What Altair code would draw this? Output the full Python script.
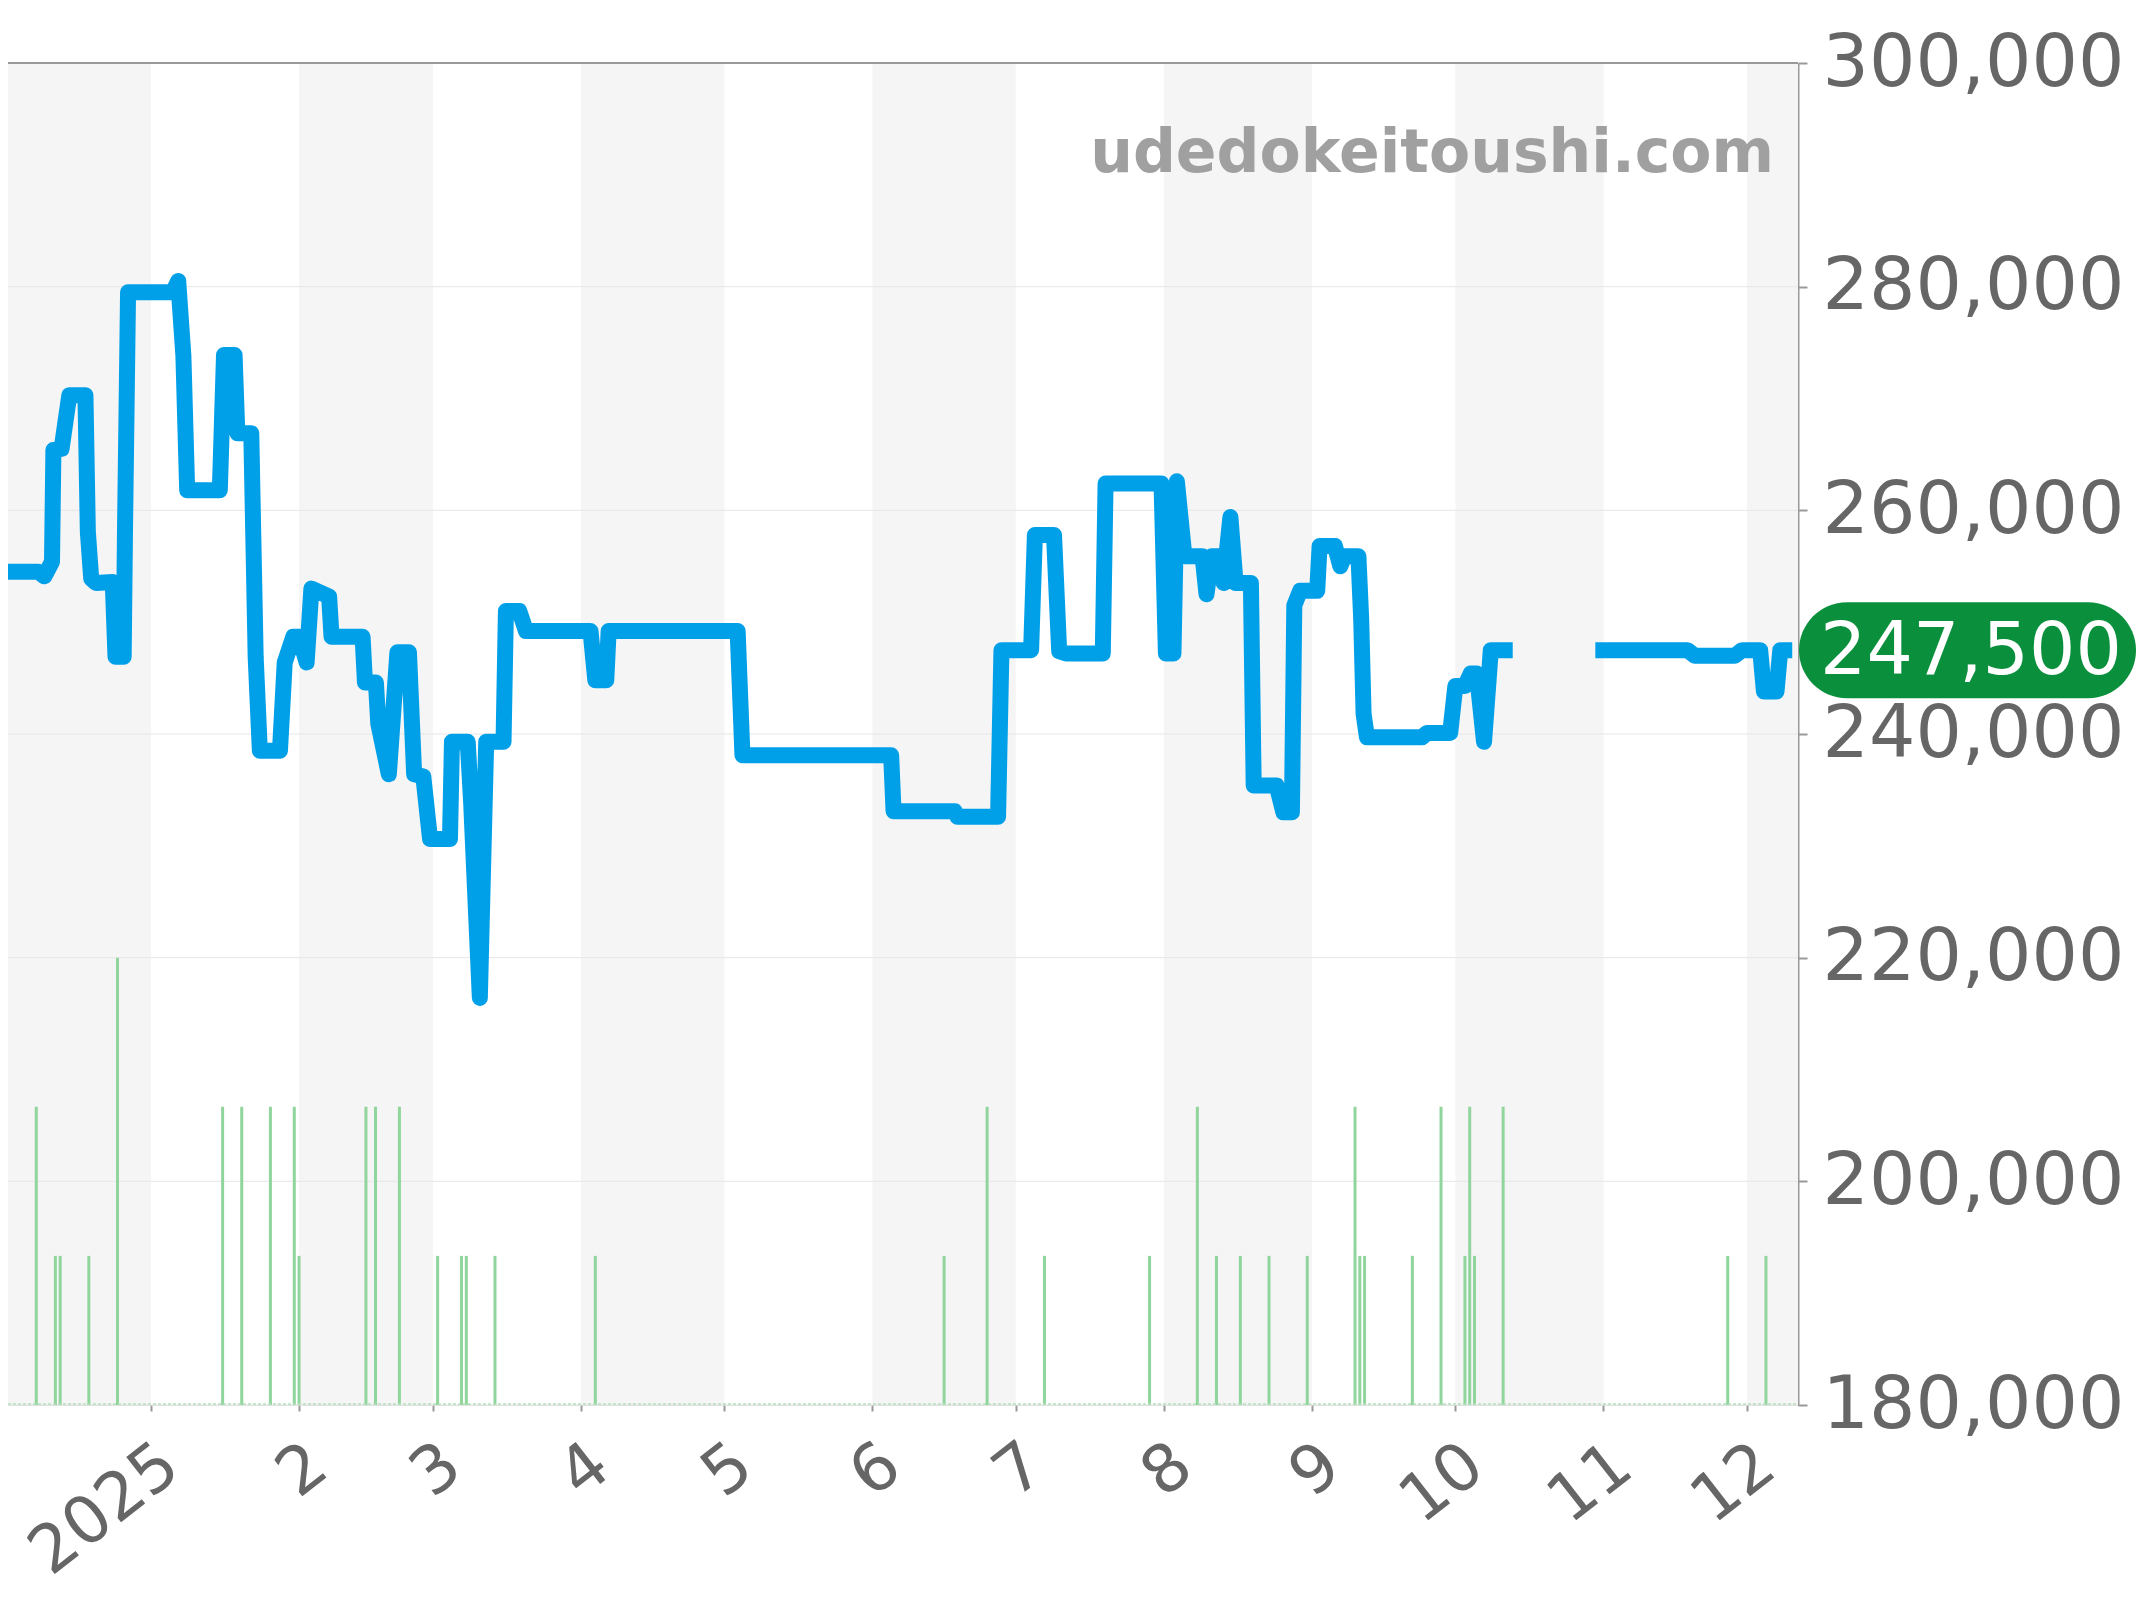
import altair as alt
import pandas as pd

W, H = 1790, 1342

# ---- price line (two segments, gap in late Oct 2025) ----
seg_a_dates = [
    "2024-12-01T00:00", "2024-12-08T12:00", "2024-12-09T17:00", "2024-12-11T07:00",
    "2024-12-11T14:00", "2024-12-13T07:00", "2024-12-14T22:00", "2024-12-18T07:00",
    "2024-12-18T19:00", "2024-12-19T12:00", "2024-12-20T12:00", "2024-12-24T00:00",
    "2024-12-24T14:00", "2024-12-26T07:00", "2024-12-26T14:00", "2024-12-27T05:00",
    "2025-01-05T14:00", "2025-01-06T17:00", "2025-01-07T19:00", "2025-01-08T14:00",
    "2025-01-15T10:00", "2025-01-16T07:00", "2025-01-18T12:00", "2025-01-19T02:00",
    "2025-01-22T00:00", "2025-01-22T22:00", "2025-01-23T19:00", "2025-01-28T00:00",
    "2025-01-29T00:00", "2025-01-30T19:00", "2025-02-01T00:00", "2025-02-02T14:00",
    "2025-02-03T14:00", "2025-02-07T07:00", "2025-02-07T19:00", "2025-02-14T07:00",
    "2025-02-14T19:00", "2025-02-17T02:00", "2025-02-17T14:00", "2025-02-19T19:00",
    "2025-02-21T14:00", "2025-02-24T00:00", "2025-02-25T02:00", "2025-02-27T00:00",
    "2025-02-28T10:00", "2025-03-04T14:00", "2025-03-05T00:00", "2025-03-08T07:00",
    "2025-03-09T00:00", "2025-03-10T20:00", "2025-03-12T04:00", "2025-03-15T19:00",
    "2025-03-16T07:00", "2025-03-19T02:00", "2025-03-20T12:00", "2025-04-03T00:00",
    "2025-04-04T00:00", "2025-04-06T07:00", "2025-04-06T19:00", "2025-05-03T19:00",
    "2025-05-04T19:00", "2025-06-04T22:00", "2025-06-05T10:00", "2025-06-18T05:00",
    "2025-06-18T19:00", "2025-06-27T07:00", "2025-06-28T00:00", "2025-07-04T05:00",
    "2025-07-05T00:00", "2025-07-09T00:00", "2025-07-10T02:00", "2025-07-11T12:00",
    "2025-07-19T05:00", "2025-07-19T19:00", "2025-07-31T12:00", "2025-08-01T10:00",
    "2025-08-03T00:00", "2025-08-03T17:00", "2025-08-05T07:00", "2025-08-09T02:00",
    "2025-08-09T22:00", "2025-08-11T00:00", "2025-08-12T12:00", "2025-08-13T12:00",
    "2025-08-14T22:00", "2025-08-16T00:00", "2025-08-19T05:00", "2025-08-19T19:00",
    "2025-08-24T14:00", "2025-08-26T00:00", "2025-08-27T19:00", "2025-08-28T07:00",
    "2025-08-29T12:00", "2025-09-02T02:00", "2025-09-02T14:00", "2025-09-05T19:00",
    "2025-09-06T22:00", "2025-09-07T19:00", "2025-09-10T17:00", "2025-09-11T07:00",
    "2025-09-11T19:00", "2025-09-12T12:00", "2025-09-24T00:00", "2025-09-25T02:00",
    "2025-09-29T22:00", "2025-10-01T00:00", "2025-10-03T00:00", "2025-10-04T05:00",
    "2025-10-05T12:00", "2025-10-07T00:00", "2025-10-08T10:00", "2025-10-13T00:00",
]
seg_a_prices = [
    254500, 254500, 254100, 255400,
    265400, 265500, 270300, 270300,
    258100, 253900, 253500, 253600,
    246900, 246900, 258700, 279500,
    279500, 280500, 273800, 261800,
    261800, 273900, 273900, 266900,
    266900, 246900, 238500, 238500,
    246400, 248700, 248700, 246400,
    253000, 252300, 248700, 248700,
    244600, 244600, 240900, 236400,
    247300, 247300, 236400, 236200,
    230600, 230600, 239300, 239300,
    234000, 216400, 239300, 239300,
    251000, 251000, 249200, 249200,
    244800, 244800, 249200, 249200,
    238100, 238100, 233100, 233100,
    232600, 232600, 247500, 247500,
    257800, 257800, 247400, 247200,
    247200, 262400, 262400, 247200,
    247200, 262600, 255900, 255900,
    252500, 255900, 255900, 253500,
    259400, 253500, 253500, 235400,
    235400, 233000, 233000, 251500,
    252800, 252800, 256800, 256800,
    255000, 255900, 255900, 250300,
    241800, 239700, 239700, 240100,
    240100, 244300, 244300, 245400,
    245400, 239300, 247500, 247500,
]
seg_b_dates = [
    "2025-10-30T07:00", "2025-11-18T14:00", "2025-11-20T02:00", "2025-11-28T12:00",
    "2025-11-30T00:00", "2025-12-03T19:00", "2025-12-04T14:00", "2025-12-07T05:00",
    "2025-12-08T00:00", "2025-12-10T12:00",
]
seg_b_prices = [
    247500, 247500, 247000, 247000,
    247500, 247500, 243800, 243800,
    247500, 247500,
]

# ---- volume (number of trades) ----
vol_dates = [
    "2024-12-08T00:00", "2024-12-12T00:00", "2024-12-13T00:00", "2024-12-19T00:00",
    "2024-12-25T00:00", "2025-01-16T00:00", "2025-01-20T00:00", "2025-01-26T00:00",
    "2025-01-31T00:00", "2025-02-01T00:00", "2025-02-15T00:00", "2025-02-17T00:00",
    "2025-02-22T00:00", "2025-03-02T00:00", "2025-03-07T00:00", "2025-03-08T00:00",
    "2025-03-14T00:00", "2025-04-04T00:00", "2025-06-16T00:00", "2025-06-25T00:00",
    "2025-07-07T00:00", "2025-07-29T00:00", "2025-08-08T00:00", "2025-08-12T00:00",
    "2025-08-17T00:00", "2025-08-23T00:00", "2025-08-31T00:00", "2025-09-10T00:00",
    "2025-09-11T00:00", "2025-09-12T00:00", "2025-09-22T00:00", "2025-09-28T00:00",
    "2025-10-03T00:00", "2025-10-04T00:00", "2025-10-05T00:00", "2025-10-11T00:00",
    "2025-11-27T00:00", "2025-12-05T00:00",
]
vol_counts = [2, 1, 1, 1, 3, 2, 2, 2, 2, 1, 2, 2, 2, 1, 1, 1, 1, 1, 1, 2,
              1, 1, 2, 1, 1, 1, 1, 2, 1, 1, 1, 2, 1, 2, 1, 2, 1, 1]

# ---- shaded months ----
band_starts = ["2024-12-01T00:00", "2025-02-01T00:00", "2025-04-01T00:00", "2025-06-01T00:00",
               "2025-08-01T00:00", "2025-10-01T00:00", "2025-12-01T00:00"]
band_ends = ["2025-01-01T00:00", "2025-03-01T00:00", "2025-05-01T00:00", "2025-07-01T00:00",
             "2025-09-01T00:00", "2025-11-01T00:00", "2026-01-01T00:00"]

y_ticks = [180000, 200000, 220000, 240000, 260000, 280000, 300000]
tick_months = list(range(1, 13))
latest_price = 247500
watermark = "udedokeitoushi.com"

FONT = "DejaVu Sans"

line_df = pd.DataFrame({
    "date": seg_a_dates + seg_b_dates,
    "price": seg_a_prices + seg_b_prices,
    "segment": ["a"] * len(seg_a_dates) + ["b"] * len(seg_b_dates),
})
vol_df = pd.DataFrame({"date": vol_dates, "count": vol_counts})
band_df = pd.DataFrame({"start": band_starts, "end": band_ends})
grid_df = pd.DataFrame({"tick": y_ticks})
latest_df = pd.DataFrame({"price": [latest_price]})
one = pd.DataFrame({"k": [0]})

price_scale = alt.Scale(domain=[180000, 300000], nice=False, zero=False)
x_scale = alt.Scale(domain=[alt.DateTime(year=2024, month=12, date=2, hours=2),
                            alt.DateTime(year=2025, month=12, date=11, hours=17)])

x_axis = alt.Axis(
    values=[alt.DateTime(year=2025, month=m, date=1) for m in tick_months],
    labelExpr="month(datum.value) == 0 ? timeFormat(datum.value, '%Y') : '' + (month(datum.value) + 1)",
    title=None, domain=False, grid=False, ticks=True, tickColor="#999999", tickWidth=2,
    tickSize=6, labelFontSize=66, labelColor="#666666", labelAngle=322, labelAlign="right",
    labelBaseline="top", labelPadding=21, labelOverlap=False, labelFlush=False, labelFont=FONT,
    labelLimit=400,
)
y_axis = alt.Axis(
    orient="right", values=y_ticks, format=",.0f", title=None, grid=False,
    domainColor="#999999", domainWidth=2, tickColor="#999999", tickWidth=2, tickSize=9,
    labelFontSize=73, labelColor="#666666", labelPadding=15, labelFont=FONT,
    labelFlush=False, labelOverlap=False, labelLimit=400,
)

bands = alt.Chart(band_df).mark_rect(color="#f5f5f5", clip=True).encode(
    x=alt.X("start:T", scale=x_scale, axis=x_axis, title=None),
    x2="end:T",
    y=alt.value(0), y2=alt.value(H),
)
grid = alt.Chart(grid_df).mark_rule(color="#e6e6e6", strokeWidth=1).encode(
    y=alt.Y("tick:Q", scale=price_scale, axis=None),
)
back = alt.layer(bands, grid)

vol = alt.Chart(vol_df).mark_rule(color="#8fd59c", strokeWidth=3).encode(
    x=alt.X("date:T", scale=x_scale, axis=x_axis, title=None),
    y=alt.Y("count:Q", scale=alt.Scale(domain=[0, 9], nice=False), axis=None),
    y2=alt.datum(0),
)
baseline = alt.Chart(one).mark_rule(color="#b3e0ba", strokeWidth=1.5, strokeDash=[3, 2]).encode(
    x=alt.value(0), x2=alt.value(W), y=alt.value(H - 1),
)
lower = alt.layer(vol, baseline)

line = alt.Chart(line_df).mark_line(
    color="#00a0e9", strokeWidth=16, strokeJoin="round", strokeCap="butt", clip=True
).encode(
    x=alt.X("date:T", scale=x_scale, axis=x_axis, title=None),
    y=alt.Y("price:Q", scale=price_scale, axis=y_axis, title=None),
    detail="segment:N",
)
top = alt.Chart(one).mark_rule(color="#999999", strokeWidth=2).encode(
    x=alt.value(0), x2=alt.value(W), y=alt.value(0),
)
mark_wm = alt.Chart(one).mark_text(
    text=watermark, font=FONT, fontSize=60, fontWeight="bold", color="#a0a0a0",
    align="right", baseline="alphabetic",
).encode(x=alt.value(W - 24), y=alt.value(109))
badge = alt.Chart(latest_df).mark_rect(
    color="#0a903c", cornerRadius=48, yOffset=-48, y2Offset=48
).encode(
    x=alt.value(W + 1), x2=alt.value(W + 338),
    y=alt.Y("price:Q", scale=price_scale, axis=y_axis, title=None), y2="price:Q",
)
badge_text = alt.Chart(latest_df).mark_text(
    font=FONT, fontSize=73, color="white", align="left", baseline="middle", dy=2
).encode(
    x=alt.value(W + 22),
    y=alt.Y("price:Q", scale=price_scale, axis=y_axis, title=None),
    text=alt.Text("price:Q", format=","),
)
front = alt.layer(line, top, mark_wm, badge, badge_text)

chart = alt.layer(back, lower, front).resolve_scale(y="independent").properties(
    width=W, height=H,
    padding={"left": 0, "top": 55, "right": 338, "bottom": 187},
    autosize=alt.AutoSizeParams(type="none"),
).configure_view(stroke=None).configure(font=FONT)

chart.save("out.html", embed_options={"renderer": "svg", "actions": False})
